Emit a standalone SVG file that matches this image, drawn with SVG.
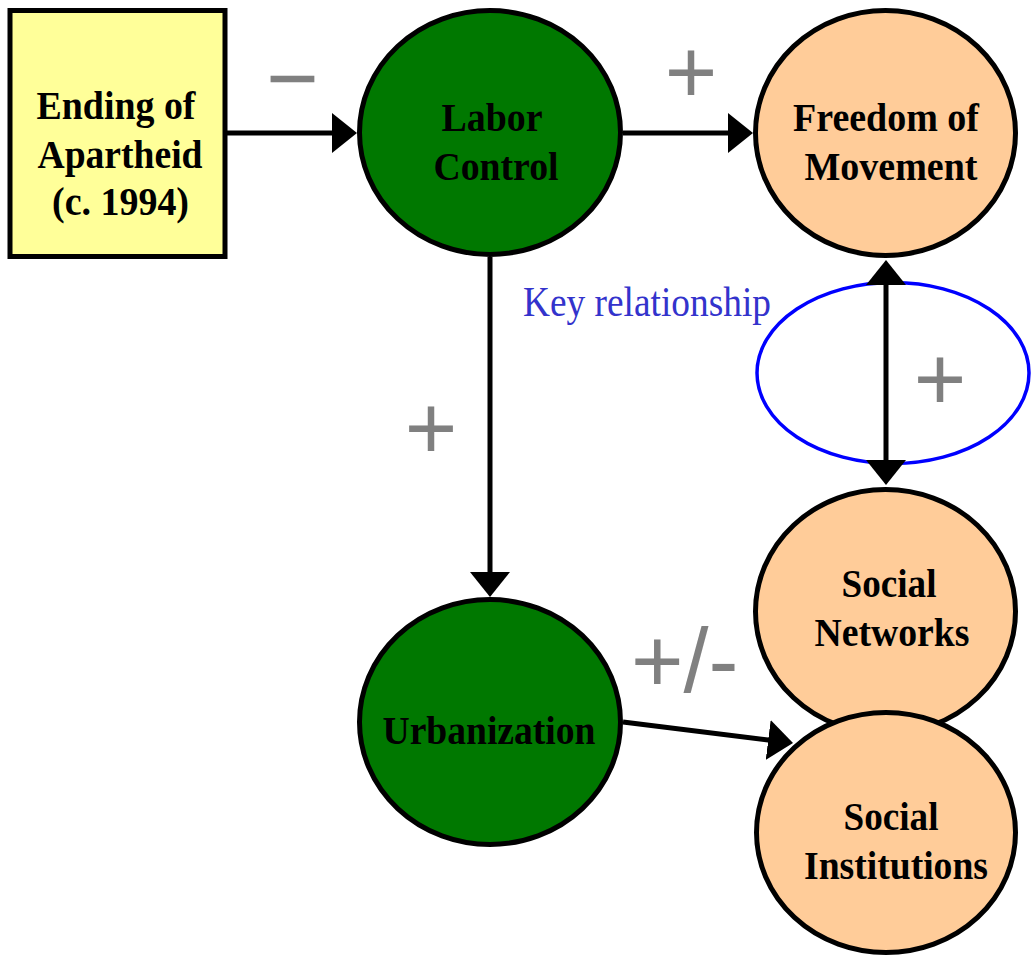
<svg xmlns="http://www.w3.org/2000/svg" width="1034" height="957" viewBox="0 0 1034 957">
<style>
.node{stroke:#000;stroke-width:5}
.green{fill:#007800}
.peach{fill:#FFCC99}
.box{fill:#FFFF99}
.lbl{font-family:"Liberation Serif","Times New Roman",serif;font-weight:bold;font-size:41px;fill:#000;text-anchor:middle}
.sign{font-family:"Liberation Sans",Arial,sans-serif;font-size:90px;fill:#808080;text-anchor:middle}
.conn{stroke:#000;stroke-width:5;fill:none}
</style>
<defs>
<marker id="ah" viewBox="0 0 25 40" refX="2" refY="20" markerWidth="25" markerHeight="40" markerUnits="userSpaceOnUse" orient="auto-start-reverse">
<path d="M0,0 L25,20 L0,40 Z" fill="#000"/>
</marker>
</defs>
<rect width="1034" height="957" fill="#fff"/>
<g id="key-relationship">
<ellipse cx="893" cy="373" rx="136" ry="90.5" fill="none" stroke="#0000FF" stroke-width="3.5"/>
<text x="523" y="316" font-family="Liberation Serif,'Times New Roman',serif" font-size="42" fill="#3333CC" textLength="248" lengthAdjust="spacingAndGlyphs">Key relationship</text>
</g>
<g id="node-ending">
<rect class="node box" x="10" y="10.5" width="215" height="246"/>
<text class="lbl" x="116" y="119" textLength="159" lengthAdjust="spacingAndGlyphs">Ending of</text>
<text class="lbl" x="120" y="168" textLength="165" lengthAdjust="spacingAndGlyphs">Apartheid</text>
<text class="lbl" x="120.5" y="215" textLength="137" lengthAdjust="spacingAndGlyphs">(c. 1994)</text>
</g>
<g id="node-labor">
<ellipse class="node green" cx="490" cy="132.5" rx="130.5" ry="122"/>
<text class="lbl" x="492" y="131" textLength="101" lengthAdjust="spacingAndGlyphs">Labor</text>
<text class="lbl" x="496" y="180" textLength="125" lengthAdjust="spacingAndGlyphs">Control</text>
</g>
<g id="node-freedom">
<ellipse class="node peach" cx="885.5" cy="133" rx="130" ry="122.5"/>
<text class="lbl" x="886" y="131" textLength="186" lengthAdjust="spacingAndGlyphs">Freedom of</text>
<text class="lbl" x="891" y="180" textLength="173" lengthAdjust="spacingAndGlyphs">Movement</text>
</g>
<g id="node-urbanization">
<ellipse class="node green" cx="490" cy="722" rx="130.5" ry="122.5"/>
<text class="lbl" x="489" y="744" textLength="213" lengthAdjust="spacingAndGlyphs">Urbanization</text>
</g>
<g id="node-networks">
<ellipse class="node peach" cx="885.5" cy="611.5" rx="130" ry="122"/>
<text class="lbl" x="889" y="597" textLength="95" lengthAdjust="spacingAndGlyphs">Social</text>
<text class="lbl" x="892" y="646" textLength="155" lengthAdjust="spacingAndGlyphs">Networks</text>
</g>
<g id="node-institutions">
<ellipse class="node peach" cx="886" cy="832.5" rx="129.5" ry="120"/>
<text class="lbl" x="891" y="830" textLength="95" lengthAdjust="spacingAndGlyphs">Social</text>
<text class="lbl" x="896" y="879" textLength="184" lengthAdjust="spacingAndGlyphs">Institutions</text>
</g>
<g id="connectors">
<line class="conn" x1="227" y1="133" x2="334" y2="133" marker-end="url(#ah)"/>
<line class="conn" x1="623" y1="133" x2="730" y2="133" marker-end="url(#ah)"/>
<line class="conn" x1="490" y1="257" x2="490" y2="574" marker-end="url(#ah)"/>
<line class="conn" x1="886" y1="283" x2="886" y2="462" marker-start="url(#ah)" marker-end="url(#ah)"/>
<line class="conn" x1="623" y1="722" x2="770.2" y2="740.2" marker-end="url(#ah)"/>
</g>
<g id="signs">
<text class="sign" x="292.5" y="108.5">−</text>
<text class="sign" x="691" y="102.5">+</text>
<text class="sign" x="431" y="458.5">+</text>
<text class="sign" x="940" y="409.5">+</text>
<text class="sign" x="631" y="691.5" style="text-anchor:start">+/-</text>
</g>
</svg>
